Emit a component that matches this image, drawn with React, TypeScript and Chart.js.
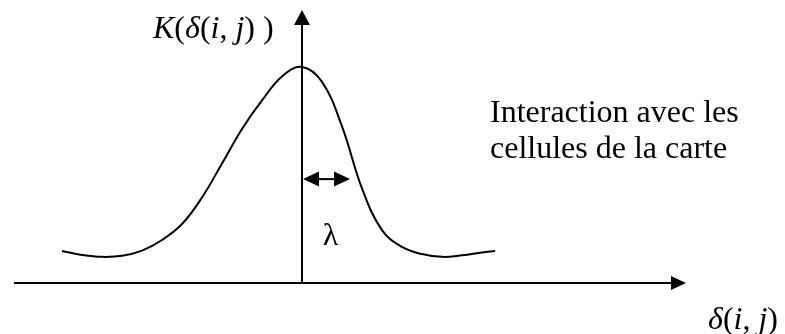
import { useEffect, useRef } from "react";
import { Chart, registerables } from "chart.js";

Chart.register(...registerables);

// Kernel curve K(δ) sampled along the distance axis (peak normalised to 1)
const distance = [
  -6.0, -5.5, -5.0, -4.5, -4.0, -3.5, -3.0, -2.5, -2.0, -1.5, -1.0, -0.5, 0,
  0.5, 1.0, 1.5, 2.0, 2.5, 3.0, 3.5, 4.0, 4.5, 4.83,
];
const kernel = [
  0.148, 0.13, 0.121, 0.126, 0.15, 0.199, 0.273, 0.396, 0.553, 0.713, 0.845, 0.956, 1.0,
  0.931, 0.725, 0.438, 0.245, 0.167, 0.134, 0.121, 0.128, 0.141, 0.148,
];

// Axis extents (in data units) and the width marker λ
const xAxisFrom = -7.2;
const xAxisTo = 9.6;
const yAxisTo = 1.264;
const lambdaWidth = 1.2;
const lambdaLevel = 0.481;

// Text runs: [text, italic]
type Run = [string, boolean];
const yTitle: Run[] = [
  ["K", true], ["(", false], ["δ", true], ["(", false], ["i", true], [", ", false],
  ["j", true], [")", false], [" )", false],
];
const xTitle: Run[] = [
  ["δ", true], ["(", false], ["i", true], [", ", false], ["j", true], [")", false],
];
const noteLines = ["Interaction avec les", "cellules de la carte"];
const lambdaLabel = "λ";

const FONT = '"Liberation Serif", "Times New Roman", serif';
const SIZE = 32;

function drawRuns(ctx: CanvasRenderingContext2D, runs: Run[], x: number, y: number) {
  let cx = x;
  for (const [text, italic] of runs) {
    ctx.font = `${italic ? "italic " : ""}${SIZE}px ${FONT}`;
    ctx.fillText(text, cx, y);
    cx += ctx.measureText(text).width;
  }
}

function arrowHead(
  ctx: CanvasRenderingContext2D,
  tipX: number,
  tipY: number,
  dx: number,
  dy: number,
  len: number,
  half: number
) {
  // dx, dy: unit direction the arrow points to
  const bx = tipX - dx * len;
  const by = tipY - dy * len;
  ctx.beginPath();
  ctx.moveTo(tipX, tipY);
  ctx.lineTo(bx - dy * half, by + dx * half);
  ctx.lineTo(bx + dy * half, by - dx * half);
  ctx.closePath();
  ctx.fill();
}

const diagramPlugin = {
  id: "kernelDiagram",
  afterDatasetsDraw(chart: Chart) {
    const ctx = chart.ctx;
    const xs = chart.scales.x;
    const ys = chart.scales.y;
    const px = (v: number) => xs.getPixelForValue(v);
    const py = (v: number) => ys.getPixelForValue(v);

    ctx.save();
    ctx.strokeStyle = "#000";
    ctx.fillStyle = "#000";
    ctx.lineWidth = 2;

    const ox = px(0);
    const oy = py(0);

    // horizontal axis
    ctx.beginPath();
    ctx.moveTo(px(xAxisFrom), oy);
    ctx.lineTo(px(xAxisTo) - 8, oy);
    ctx.stroke();
    arrowHead(ctx, px(xAxisTo), oy, 1, 0, 15, 7);

    // vertical axis
    ctx.beginPath();
    ctx.moveTo(ox, oy);
    ctx.lineTo(ox, py(yAxisTo) + 8);
    ctx.stroke();
    arrowHead(ctx, ox, py(yAxisTo), 0, -1, 15, 8);

    // λ double arrow
    const ly = py(lambdaLevel);
    const lx0 = px(0) + 1;
    const lx1 = px(lambdaWidth);
    ctx.beginPath();
    ctx.moveTo(lx0 + 8, ly);
    ctx.lineTo(lx1 - 8, ly);
    ctx.stroke();
    arrowHead(ctx, lx0, ly, -1, 0, 16, 7.5);
    arrowHead(ctx, lx1, ly, 1, 0, 16, 7.5);

    // labels
    ctx.textBaseline = "alphabetic";
    ctx.textAlign = "left";
    drawRuns(ctx, yTitle, ox - 149, py(yAxisTo) + 28);
    drawRuns(ctx, xTitle, px(xAxisTo) + 22, oy + 46);

    ctx.font = `${SIZE}px ${FONT}`;
    noteLines.forEach((line, i) => {
      ctx.fillText(line, ox + 188, py(yAxisTo) + 112 + i * 36.5);
    });

    ctx.textAlign = "center";
    ctx.fillText(lambdaLabel, (lx0 + lx1) / 2 + 4, oy - 38);

    ctx.restore();
  },
};

export default function App() {
  const canvasRef = useRef<HTMLCanvasElement | null>(null);

  useEffect(() => {
    const canvas = canvasRef.current;
    if (!canvas) return;
    const chart = new Chart(canvas, {
      type: "line",
      data: {
        datasets: [
          {
            data: distance.map((d, i) => ({ x: d, y: kernel[i] })),
            borderColor: "#000",
            borderWidth: 2,
            pointRadius: 0,
            tension: 0.4,
            fill: false,
          },
        ],
      },
      options: {
        responsive: false,
        animation: false,
        layout: { padding: 0 },
        plugins: {
          legend: { display: false },
          tooltip: { enabled: false },
        },
        scales: {
          x: { type: "linear", min: -7.55, max: 12.075, display: false },
          y: { type: "linear", min: -0.236, max: 1.31, display: false },
        },
      },
      plugins: [diagramPlugin],
    });
    return () => chart.destroy();
  }, []);

  return (
    <div style={{ position: "absolute", left: 0, top: 0, width: 785, height: 334, background: "#fff" }}>
      <canvas ref={canvasRef} width={785} height={334} />
    </div>
  );
}
